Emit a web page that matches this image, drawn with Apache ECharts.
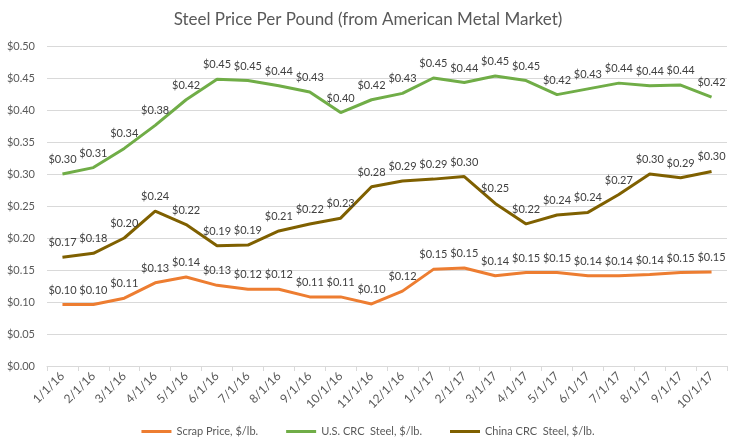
<!DOCTYPE html>
<html><head><meta charset="utf-8">
<script src="https://cdn.jsdelivr.net/npm/echarts@6/dist/echarts.min.js"></script>
<style>html,body{margin:0;padding:0;background:#fff}#c{width:736px;height:448px}</style>
</head><body><div id="c"></div>
<script>
var categories = ['1/1/16','2/1/16','3/1/16','4/1/16','5/1/16','6/1/16','7/1/16','8/1/16','9/1/16','10/1/16','11/1/16','12/1/16','1/1/17','2/1/17','3/1/17','4/1/17','5/1/17','6/1/17','7/1/17','8/1/17','9/1/17','10/1/17'];
var scrapPrice = [0.096,0.096,0.106,0.130,0.139,0.126,0.120,0.120,0.108,0.108,0.097,0.117,0.151,0.153,0.141,0.146,0.146,0.141,0.141,0.143,0.146,0.147];
var usCrc = [0.300,0.310,0.340,0.376,0.416,0.448,0.446,0.438,0.428,0.396,0.416,0.426,0.450,0.443,0.453,0.446,0.424,0.433,0.442,0.438,0.439,0.420];
var chinaCrc = [0.170,0.176,0.200,0.242,0.221,0.188,0.189,0.211,0.222,0.231,0.280,0.289,0.292,0.296,0.254,0.222,0.236,0.240,0.268,0.300,0.294,0.304];
var seriesNames = ['Scrap Price, $/lb.','U.S. CRC  Steel, $/lb.','China CRC  Steel, $/lb.'];
var FONT = 'Lato';
function mk(name, data, color){
  return {name:name,type:'line',data:data,symbol:'circle',symbolSize:0,showSymbol:true,smooth:false,
    lineStyle:{color:color,width:3},itemStyle:{color:color},
    labelLayout:{hideOverlap:false},
    label:{show:true,position:'top',distance:9,color:'#404040',fontFamily:FONT,fontSize:11,
      formatter:function(p){return '$'+p.value.toFixed(2);}}};
}
var chart = echarts.init(document.getElementById('c'));
chart.setOption({
  animation:false,
  title:{text:'Steel Price Per Pound (from American Metal Market)',left:'center',top:6,
    textStyle:{color:'#595959',fontFamily:FONT,fontSize:17,fontWeight:'normal'}},
  grid:{left:47,right:9,top:46,bottom:82,containLabel:false},
  legend:{bottom:6,left:'center',icon:'rect',itemWidth:30,itemHeight:3,itemGap:28,
    textStyle:{color:'#595959',fontFamily:FONT,fontSize:11},data:seriesNames},
  xAxis:{type:'category',data:categories,boundaryGap:true,
    axisLine:{lineStyle:{color:'#d9d9d9'}},
    axisTick:{show:true,length:5,lineStyle:{color:'#d9d9d9'}},
    axisLabel:{rotate:45,color:'#595959',fontFamily:FONT,fontSize:12,margin:8,interval:0}},
  yAxis:{type:'value',min:0,max:0.5,interval:0.05,
    axisLine:{show:false},axisTick:{show:false},
    splitLine:{lineStyle:{color:'#d9d9d9'}},
    axisLabel:{color:'#595959',fontFamily:FONT,fontSize:11,margin:12,
      formatter:function(v){return '$'+v.toFixed(2);}}},
  series:[mk(seriesNames[0],scrapPrice,'#ED7D31'),mk(seriesNames[1],usCrc,'#70AD47'),mk(seriesNames[2],chinaCrc,'#7F6000')]
});
</script></body></html>
